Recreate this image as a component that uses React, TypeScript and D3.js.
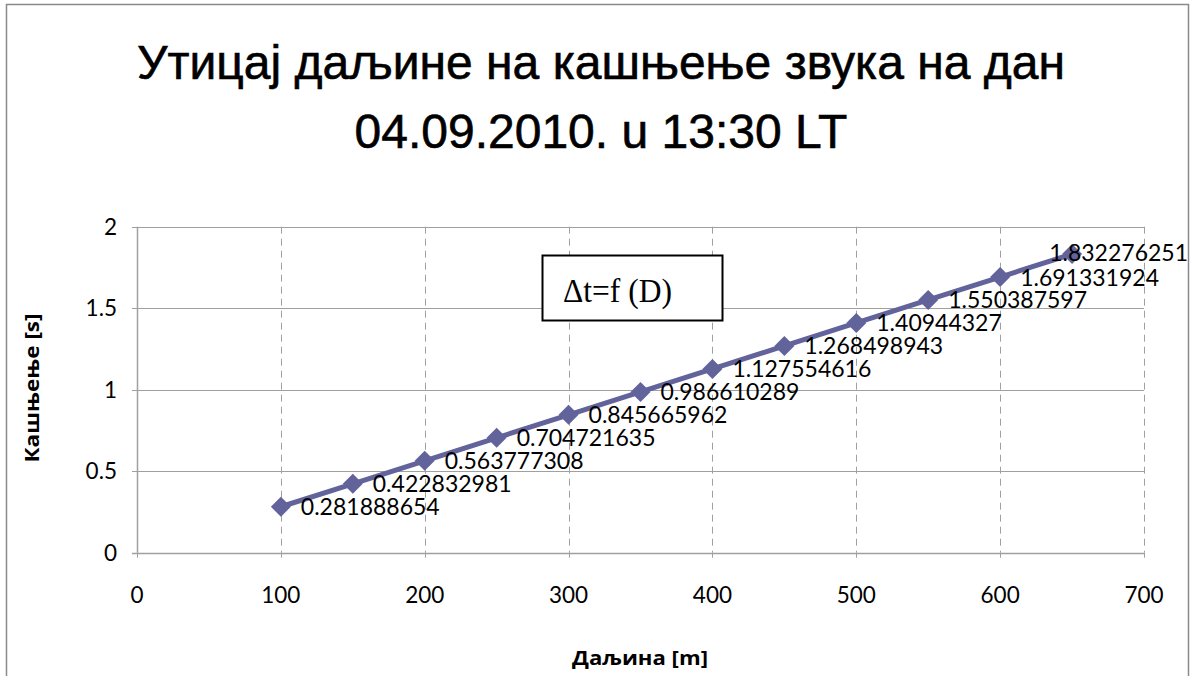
import React, { useEffect, useRef } from "react";
import * as d3 from "d3";

const distances = [100, 150, 200, 250, 300, 350, 400, 450, 500, 550, 600, 650];
const delays = [
  0.281888654, 0.422832981, 0.563777308, 0.704721635, 0.845665962, 0.986610289,
  1.127554616, 1.268498943, 1.40944327, 1.550387597, 1.691331924, 1.832276251,
];
const xTicks = [0, 100, 200, 300, 400, 500, 600, 700];
const yTicks = [0, 0.5, 1, 1.5, 2];
const titleLines = ["Утицај даљине на кашњење звука на дан", "04.09.2010. u 13:30 LT"];
const xTitle = "Даљина [m]";
const yTitle = "Кашњење [s]";
const boxLabel = "Δt=f (D)";

const W = 1195;
const H = 676;
const SERIES = "#62639B";
const GRID = "#a0a0a0";
const LABEL_FONT = "Lato, 'Open Sans', sans-serif";
const AXIS_TITLE_FONT = "'Open Sans', 'Noto Sans', sans-serif";

export default function App() {
  const ref = useRef<SVGSVGElement | null>(null);

  useEffect(() => {
    const svg = d3.select(ref.current);
    svg.selectAll("*").remove();

    const x = d3.scaleLinear().domain([0, 700]).range([137, 1144]);
    const y = d3.scaleLinear().domain([0, 2]).range([552.7, 226.7]);

    svg.append("rect").attr("x", 0).attr("y", 0).attr("width", W).attr("height", H).attr("fill", "#fff");
    svg
      .append("rect")
      .attr("x", 6.5)
      .attr("y", 4.5)
      .attr("width", 1182)
      .attr("height", 690)
      .attr("fill", "none")
      .attr("stroke", "#8a8a8a")
      .attr("stroke-width", 1.5);

    // title
    titleLines.forEach((t, i) => {
      svg
        .append("text")
        .attr("x", 601)
        .attr("y", 79 + i * 69)
        .attr("text-anchor", "middle")
        .attr("font-family", "'Liberation Sans', Arial, sans-serif")
        .attr("font-size", 48)
        .attr("fill", "#000")
        .attr("stroke", "#000")
        .attr("stroke-width", 0.6)
        .text(t);
    });

    const g = svg.append("g");

    // horizontal grid
    g.selectAll("line.hg")
      .data(yTicks.filter((d) => d > 0))
      .join("line")
      .attr("x1", x(0) - 5)
      .attr("x2", x(700))
      .attr("y1", (d) => Math.round(y(d)) + 0.5)
      .attr("y2", (d) => Math.round(y(d)) + 0.5)
      .attr("stroke", GRID)
      .attr("stroke-width", 1);

    // vertical dashed grid
    g.selectAll("line.vg")
      .data(xTicks.filter((d) => d > 0))
      .join("line")
      .attr("x1", (d) => Math.round(x(d)) + 0.5)
      .attr("x2", (d) => Math.round(x(d)) + 0.5)
      .attr("y1", y(2))
      .attr("y2", y(0))
      .attr("stroke", GRID)
      .attr("stroke-width", 1)
      .attr("stroke-dasharray", "7,5");

    // axes
    g.append("line")
      .attr("x1", Math.round(x(0)) + 0.5)
      .attr("x2", Math.round(x(0)) + 0.5)
      .attr("y1", y(2))
      .attr("y2", y(0))
      .attr("stroke", GRID)
      .attr("stroke-width", 1.5);
    g.append("line")
      .attr("x1", x(0) - 5)
      .attr("x2", x(700))
      .attr("y1", Math.round(y(0)) + 0.5)
      .attr("y2", Math.round(y(0)) + 0.5)
      .attr("stroke", GRID)
      .attr("stroke-width", 1.5);
    g.selectAll("line.xt")
      .data(xTicks)
      .join("line")
      .attr("x1", (d) => Math.round(x(d)) + 0.5)
      .attr("x2", (d) => Math.round(x(d)) + 0.5)
      .attr("y1", y(0))
      .attr("y2", y(0) + 5)
      .attr("stroke", GRID)
      .attr("stroke-width", 1);

    // tick labels
    g.selectAll("text.yl")
      .data(yTicks)
      .join("text")
      .attr("x", 117)
      .attr("y", (d) => y(d) + 8)
      .attr("text-anchor", "end")
      .attr("font-family", LABEL_FONT)
      .attr("font-size", 22.5)
      .attr("fill", "#000")
      .text((d) => String(d));
    g.selectAll("text.xl")
      .data(xTicks)
      .join("text")
      .attr("x", (d) => x(d))
      .attr("y", 603)
      .attr("text-anchor", "middle")
      .attr("font-family", LABEL_FONT)
      .attr("font-size", 22.5)
      .attr("fill", "#000")
      .text((d) => String(d));

    // axis titles
    svg
      .append("text")
      .attr("transform", `translate(39,388) rotate(-90)`)
      .attr("text-anchor", "middle")
      .attr("font-family", AXIS_TITLE_FONT)
      .attr("font-weight", "bold")
      .attr("font-size", 19)
      .attr("textLength", 149)
      .attr("lengthAdjust", "spacingAndGlyphs")
      .attr("fill", "#000")
      .text(yTitle);
    svg
      .append("text")
      .attr("x", 640)
      .attr("y", 665)
      .attr("text-anchor", "middle")
      .attr("font-family", AXIS_TITLE_FONT)
      .attr("font-weight", "bold")
      .attr("font-size", 19)
      .attr("textLength", 136)
      .attr("lengthAdjust", "spacingAndGlyphs")
      .attr("fill", "#000")
      .text(xTitle);

    // series line
    const pts = distances.map((d, i) => [d, delays[i]] as [number, number]);
    const line = d3
      .line<[number, number]>()
      .x((d) => x(d[0]))
      .y((d) => y(d[1]));
    g.append("path")
      .attr("d", line(pts))
      .attr("fill", "none")
      .attr("stroke", SERIES)
      .attr("stroke-width", 5)
      .attr("stroke-linejoin", "round");

    // markers
    const r = 10;
    g.selectAll("path.m")
      .data(pts)
      .join("path")
      .attr("d", (d) => {
        const cx = x(d[0]);
        const cy = y(d[1]);
        return `M${cx},${cy - r}L${cx + r},${cy}L${cx},${cy + r}L${cx - r},${cy}Z`;
      })
      .attr("fill", SERIES);

    // data labels
    const labels = g
      .selectAll("text.dl")
      .data(pts)
      .join("text")
      .attr("x", (d) => x(d[0]) + 20)
      .attr("y", (d) => y(d[1]) + 8.5)
      .attr("font-family", LABEL_FONT)
      .attr("font-size", 23)
      .attr("fill", "#000")
      .text((d) => String(d[1]));
    labels.each(function () {
      const el = this as SVGTextElement;
      const w = el.getComputedTextLength();
      const lx = parseFloat(el.getAttribute("x") || "0");
      if (lx + w > 1188) {
        el.setAttribute("x", String(1188 - w));
        el.setAttribute("y", String(parseFloat(el.getAttribute("y") || "0") - 1.5));
      }
    });

    // equation box
    svg
      .append("rect")
      .attr("x", 542.5)
      .attr("y", 255.5)
      .attr("width", 180)
      .attr("height", 65)
      .attr("fill", "#fff")
      .attr("stroke", "#000")
      .attr("stroke-width", 2);
    svg
      .append("text")
      .attr("x", 563)
      .attr("y", 302)
      .attr("font-family", "'Liberation Serif', 'Times New Roman', serif")
      .attr("font-size", 34)
      .attr("textLength", 109)
      .attr("lengthAdjust", "spacingAndGlyphs")
      .attr("fill", "#000")
      .text(boxLabel);
  }, []);

  return (
    <svg
      ref={ref}
      width={W}
      height={H}
      style={{ position: "absolute", left: 0, top: 0, display: "block" }}
    />
  );
}
